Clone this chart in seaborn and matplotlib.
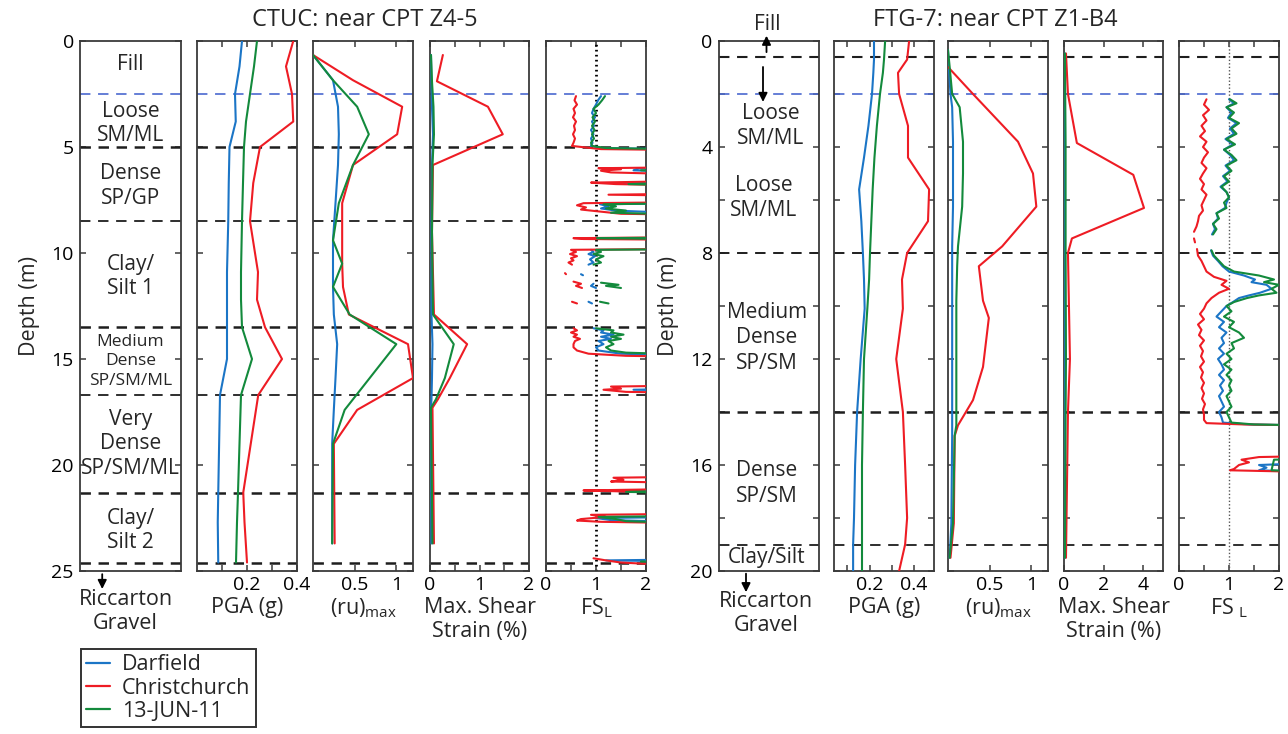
import numpy as np
import pandas as pd
import matplotlib
matplotlib.use("Agg")
import matplotlib.pyplot as plt
from matplotlib.lines import Line2D
import seaborn as sns

# ---------------------------------------------------------------- data
EVENTS = ["Darfield", "Christchurch", "13-JUN-11"]
EVENT_COLORS = ["#1b75c6", "#ee1c24", "#138a3c"]

# --- CTUC: near CPT Z4-5 ---------------------------------------------
CTUC_WATER_TABLE = 2.5
CTUC_LAYER_BOUNDS = [5.0, 8.5, 13.5, 16.7, 21.3, 24.6]
CTUC_LAYER_NAMES = ["Fill", "Loose\nSM/ML", "Dense\nSP/GP", "Clay/\nSilt 1",
                    "Medium\nDense\nSP/SM/ML", "Very\nDense\nSP/SM/ML", "Clay/\nSilt 2"]

CTUC_PGA_DEPTH = [0, 1.2, 2.5, 3.8, 5.0, 6.7, 8.5, 10.9, 12.2, 13.5, 15.0, 16.7, 21.3, 22.7, 24.6]
CTUC_PGA_DARFIELD = [0.180, 0.170, 0.152, 0.155, 0.130, 0.127, 0.125, 0.120, 0.120, 0.120,
                     0.120, 0.092, 0.085, 0.083, 0.085]
CTUC_PGA_CHCH = [0.385, 0.356, 0.380, 0.385, 0.252, 0.225, 0.212, 0.244, 0.240, 0.272,
                 0.340, 0.245, 0.185, 0.190, 0.200]
CTUC_PGA_JUN = [0.240, 0.228, 0.212, 0.196, 0.188, 0.184, 0.180, 0.176, 0.176, 0.180,
                0.220, 0.176, 0.164, 0.160, 0.156]

CTUC_RU_DEPTH = [0.66, 1.85, 3.1, 4.4, 5.85, 7.65, 9.4, 10.5, 11.6, 12.9, 14.3, 15.9, 17.4, 19.0, 23.7]
CTUC_RU_DARFIELD = [0.0, 0.24, 0.30, 0.31, 0.30, 0.27, 0.24, 0.24, 0.24, 0.25, 0.29, 0.27, 0.25, 0.23, 0.23]
CTUC_RU_CHCH = [0.0, 0.48, 1.07, 1.01, 0.48, 0.35, 0.35, 0.35, 0.36, 0.43, 1.14, 1.20, 0.53, 0.25, 0.26]
CTUC_RU_JUN = [0.0, 0.24, 0.53, 0.67, 0.48, 0.31, 0.24, 0.35, 0.24, 0.44, 1.00, 0.68, 0.38, 0.24, 0.23]

CTUC_GAMMA_DEPTH = [0.66, 1.9, 3.1, 4.4, 5.85, 9.0, 12.9, 14.3, 15.9, 16.9, 17.3, 23.7]
CTUC_GAMMA_DARFIELD = [0.02, 0.03, 0.04, 0.06, 0.04, 0.03, 0.03, 0.05, 0.04, 0.03, 0.02, 0.03]
CTUC_GAMMA_CHCH = [0.26, 0.14, 1.17, 1.47, 0.06, 0.04, 0.08, 0.75, 0.40, 0.16, 0.05, 0.08]
CTUC_GAMMA_JUN = [0.02, 0.04, 0.07, 0.08, 0.05, 0.04, 0.06, 0.48, 0.30, 0.12, 0.02, 0.05]

# factor of safety: (depth, FS) pairs, None marks a break in the profile
CTUC_FS_DARFIELD = [
    (2.6, 1.10), (2.8, 1.04), (3.0, 1.00), (3.2, 0.95), (3.4, 0.92), (3.6, 0.98), (3.8, 0.92),
    (4.0, 0.96), (4.2, 0.90), (4.4, 0.95), (4.6, 0.90), (4.8, 0.93), (4.95, 0.90), (5.05, 1.10),
    (5.12, 3.0), None,
    (5.95, 3.0), (6.0, 1.85), (6.1, 1.75), (6.2, 3.0), None,
    (6.65, 3.0), (6.72, 1.55), (6.8, 3.0), None,
    (7.65, 3.0), (7.7, 1.08), (7.8, 1.25), (7.9, 1.10), (8.0, 1.40), (8.15, 3.0), None,
    (9.85, 0.90), (9.95, 0.95), (10.05, 0.85), (10.15, 0.98), (10.3, 0.88), (10.45, 0.95),
    (10.55, 0.85), None,
    (11.0, 0.70), (11.05, 0.74), None,
    (11.45, 0.95), (11.55, 0.90), (11.65, 1.00), None,
    (12.3, 0.85), (12.38, 0.92), None,
    (13.55, 0.95), (13.65, 1.15), (13.75, 1.10), (13.85, 1.35), (13.95, 1.10), (14.05, 1.30),
    (14.15, 1.05), (14.3, 1.15), (14.45, 1.00), (14.6, 1.05), (14.75, 1.50), (14.85, 3.0), None,
    (16.4, 3.0), (16.45, 1.75), (16.5, 3.0), None,
    (21.15, 3.0), (21.22, 1.30), (21.3, 3.0), None,
    (22.45, 3.0), (22.5, 1.00), (22.6, 1.30), (22.7, 3.0), None,
    (24.45, 3.0), (24.5, 1.20), (24.55, 3.0),
]
CTUC_FS_CHCH = [
    (2.6, 0.60), (2.8, 0.57), (3.0, 0.62), (3.2, 0.55), (3.4, 0.58), (3.6, 0.54), (3.8, 0.60),
    (4.0, 0.56), (4.2, 0.58), (4.4, 0.54), (4.6, 0.58), (4.8, 0.55), (4.95, 0.52), (5.05, 0.90),
    (5.1, 1.10), (5.15, 3.0), None,
    (5.95, 3.0), (6.0, 1.05), (6.05, 1.50), (6.12, 1.10), (6.2, 1.30), (6.3, 3.0), None,
    (6.6, 3.0), (6.68, 0.90), (6.75, 1.40), (6.82, 3.0), None,
    (7.2, 3.0), (7.25, 1.25), (7.3, 3.0), None,
    (7.6, 3.0), (7.65, 0.75), (7.75, 0.62), (7.85, 0.80), (7.95, 0.70), (8.05, 1.10),
    (8.15, 1.50), (8.2, 3.0), None,
    (9.25, 3.0), (9.3, 0.55), (9.34, 0.75), (9.38, 3.0), None,
    (9.8, 3.0), (9.85, 0.50), (9.95, 0.60), (10.05, 0.48), (10.15, 0.62), (10.25, 0.50),
    (10.35, 0.55), (10.45, 0.45), (10.55, 0.52), None,
    (10.95, 0.38), (11.0, 0.40), None,
    (11.35, 0.55), (11.45, 0.70), (11.55, 0.60), (11.65, 0.72), None,
    (12.3, 0.52), (12.38, 0.62), None,
    (13.55, 0.55), (13.65, 0.62), (13.75, 0.50), (13.85, 0.62), (13.95, 0.55), (14.05, 0.68),
    (14.15, 0.58), (14.3, 0.55), (14.45, 0.55), (14.6, 0.62), (14.75, 0.85), (14.85, 1.60),
    (14.9, 3.0), None,
    (16.25, 3.0), (16.3, 1.30), (16.4, 1.50), (16.45, 1.15), (16.55, 1.60), (16.6, 3.0), None,
    (20.55, 3.0), (20.6, 1.35), (20.7, 1.55), (20.78, 1.30), (20.85, 3.0), None,
    (21.12, 3.0), (21.2, 0.75), (21.25, 1.60), (21.3, 3.0), None,
    (22.3, 3.0), (22.35, 0.90), (22.45, 1.20), (22.55, 0.70), (22.62, 0.62), (22.68, 1.10),
    (22.75, 3.0), None,
    (24.4, 0.95), (24.5, 1.20), (24.6, 1.50), (24.65, 1.90), (24.7, 3.0),
]
CTUC_FS_JUN = [
    (2.6, 1.18), (2.8, 1.12), (3.0, 1.05), (3.2, 0.95), (3.4, 1.00), (3.6, 0.93), (3.8, 0.98),
    (4.0, 0.92), (4.2, 0.97), (4.4, 0.92), (4.6, 0.96), (4.8, 0.90), (4.95, 0.92), (5.05, 1.20),
    (5.12, 3.0), None,
    (6.05, 3.0), (6.1, 1.90), (6.15, 3.0), None,
    (6.68, 3.0), (6.75, 1.65), (6.82, 3.0), None,
    (7.65, 3.0), (7.7, 1.15), (7.8, 1.40), (7.9, 1.20), (8.0, 1.60), (8.1, 1.30), (8.2, 3.0), None,
    (9.27, 3.0), (9.3, 1.02), (9.35, 3.0), None,
    (9.82, 3.0), (9.85, 1.00), (9.95, 1.10), (10.05, 0.95), (10.15, 1.15), (10.3, 1.00),
    (10.45, 1.10), (10.55, 0.95), None,
    (11.4, 1.10), (11.5, 1.45), (11.55, 1.20), (11.65, 1.50), None,
    (12.3, 1.08), (12.38, 1.25), None,
    (13.55, 1.00), (13.65, 1.35), (13.75, 1.30), (13.85, 1.55), (13.95, 1.30), (14.05, 1.50),
    (14.15, 1.25), (14.3, 1.35), (14.45, 1.20), (14.6, 1.30), (14.7, 1.60), (14.8, 3.0), None,
    (21.2, 3.0), (21.27, 1.60), (21.32, 3.0), None,
    (22.4, 3.0), (22.45, 1.05), (22.55, 1.40), (22.65, 1.60), (22.75, 3.0), None,
    (24.55, 1.90), (24.6, 3.0),
]

# --- FTG-7: near CPT Z1-B4 -------------------------------------------
FTG_WATER_TABLE = 2.0
FTG_LAYER_BOUNDS = [0.6, 8.0, 14.0, 19.0]

FTG_PGA_DEPTH = [0, 0.7, 1.2, 2.0, 3.2, 4.4, 5.6, 6.8, 8.0, 9.0, 10.1, 12.0, 14.0, 16.0, 18.0, 19.0, 20.0]
FTG_PGA_DARFIELD = [0.220, 0.220, 0.217, 0.211, 0.195, 0.175, 0.153, 0.163, 0.170, 0.175,
                    0.178, 0.160, 0.144, 0.135, 0.130, 0.126, 0.126]
FTG_PGA_CHCH = [0.378, 0.369, 0.328, 0.333, 0.373, 0.373, 0.468, 0.463, 0.369, 0.346,
                0.350, 0.320, 0.350, 0.360, 0.369, 0.360, 0.333]
FTG_PGA_JUN = [0.270, 0.265, 0.260, 0.247, 0.233, 0.222, 0.214, 0.208, 0.202, 0.198,
               0.190, 0.175, 0.170, 0.166, 0.166, 0.166, 0.166]

FTG_RU_DEPTH = [0.34, 0.98, 2.0, 2.5, 3.8, 5.0, 6.25, 7.75, 8.5, 9.8, 10.45, 12.3, 13.55, 14.5, 14.9, 18.2, 19.5]
FTG_RU_DARFIELD = [0.0, 0.01, 0.03, 0.05, 0.06, 0.06, 0.06, 0.05, 0.05, 0.05, 0.05, 0.05, 0.05,
                   0.05, 0.05, 0.04, 0.02]
FTG_RU_CHCH = [np.nan, 0.0, 0.30, 0.45, 0.84, 1.02, 1.06, 0.65, 0.37, 0.42, 0.49, 0.42, 0.30,
               0.12, 0.08, 0.07, 0.03]
FTG_RU_JUN = [0.0, 0.02, 0.05, 0.14, 0.18, 0.18, 0.17, 0.12, 0.11, 0.10, 0.10, 0.10, 0.10,
              0.10, 0.08, 0.06, 0.02]

FTG_GAMMA_DEPTH = [0.47, 2.0, 3.85, 5.05, 6.3, 7.45, 8.0, 12.0, 14.0, 19.5]
FTG_GAMMA_DARFIELD = [0.04, 0.05, 0.05, 0.05, 0.05, 0.05, 0.05, 0.06, 0.05, 0.04]
FTG_GAMMA_CHCH = [0.10, 0.20, 0.65, 3.50, 4.04, 0.40, 0.20, 0.30, 0.20, 0.10]
FTG_GAMMA_JUN = [0.05, 0.06, 0.08, 0.08, 0.08, 0.08, 0.08, 0.10, 0.08, 0.05]

FTG_FS_DARFIELD = [
    (2.2, 1.00), (2.35, 1.10), (2.5, 0.95), (2.7, 1.05), (2.9, 0.98), (3.1, 1.15), (3.3, 1.02),
    (3.5, 1.10), (3.7, 0.93), (3.9, 1.08), (4.1, 0.90), (4.3, 1.02), (4.5, 1.10), (4.7, 0.93),
    (4.9, 1.02), (5.1, 0.88), (5.3, 0.97), (5.5, 0.83), (5.7, 0.95), (5.9, 1.00), (6.1, 0.95),
    (6.3, 0.92), (6.5, 0.75), (6.7, 0.78), (6.9, 0.68), (7.1, 0.72), (7.3, 0.66), None,
    (7.9, 0.64), (8.1, 0.68), (8.3, 0.78), (8.5, 0.87), (8.7, 1.00), (8.85, 1.30), (9.0, 1.52),
    (9.1, 1.45), (9.2, 1.75), (9.35, 1.85), (9.5, 1.62), (9.6, 1.40), (9.7, 1.20), (9.85, 1.08),
    (10.0, 0.95), (10.2, 0.85), (10.4, 0.75), (10.6, 0.90), (10.8, 0.80), (11.0, 0.95),
    (11.2, 0.85), (11.4, 0.90), (11.6, 0.80), (11.8, 0.90), (12.0, 0.78), (12.2, 0.85),
    (12.4, 0.90), (12.6, 0.80), (12.8, 0.90), (13.0, 0.82), (13.2, 0.88), (13.4, 0.80),
    (13.6, 0.85), (13.8, 0.90), (14.0, 0.80), (14.2, 0.85), (14.4, 0.88), (14.47, 1.40),
    (14.52, 3.0), None,
    (15.9, 3.0), (16.0, 1.60), (16.1, 1.75), (16.2, 1.60), (16.28, 3.0),
]
FTG_FS_CHCH = [
    (2.2, 0.55), (2.4, 0.50), (2.6, 0.60), (2.8, 0.48), (3.0, 0.55), (3.2, 0.45), (3.4, 0.52),
    (3.6, 0.42), (3.8, 0.55), (4.0, 0.48), (4.2, 0.58), (4.4, 0.50), (4.6, 0.45), (4.8, 0.55),
    (5.0, 0.48), (5.2, 0.42), (5.4, 0.50), (5.6, 0.45), (5.8, 0.55), (6.0, 0.50), (6.2, 0.45),
    (6.4, 0.48), (6.6, 0.40), (6.8, 0.38), (7.0, 0.35), (7.2, 0.30), None,
    (7.45, 0.30), (7.6, 0.32), None,
    (7.85, 0.36), (8.1, 0.38), (8.3, 0.45), (8.5, 0.50), (8.7, 0.55), (8.9, 0.70), (9.05, 0.95),
    (9.2, 0.85), (9.35, 1.00), (9.5, 0.80), (9.7, 0.65), (9.9, 0.55), (10.1, 0.50), (10.3, 0.42),
    (10.5, 0.50), (10.7, 0.38), (10.9, 0.45), (11.1, 0.40), (11.3, 0.50), (11.5, 0.42),
    (11.7, 0.48), (11.9, 0.44), (12.1, 0.50), (12.3, 0.42), (12.5, 0.48), (12.7, 0.44),
    (12.9, 0.50), (13.1, 0.45), (13.3, 0.50), (13.5, 0.46), (13.7, 0.52), (13.9, 0.48),
    (14.1, 0.50), (14.3, 0.50), (14.42, 0.55), (14.47, 1.30), (14.52, 3.0), None,
    (15.65, 3.0), (15.7, 1.60), (15.8, 1.25), (15.9, 1.40), (16.0, 1.20), (16.15, 1.10),
    (16.2, 1.02), (16.28, 3.0),
]
FTG_FS_JUN = [
    (2.2, 1.02), (2.35, 1.15), (2.5, 0.95), (2.7, 1.10), (2.9, 1.00), (3.1, 1.20), (3.3, 1.05),
    (3.5, 1.15), (3.7, 0.95), (3.9, 1.12), (4.1, 0.90), (4.3, 1.05), (4.5, 1.15), (4.7, 0.95),
    (4.9, 1.05), (5.1, 0.90), (5.3, 1.00), (5.5, 0.85), (5.7, 0.95), (5.9, 1.00), (6.1, 0.90),
    (6.3, 0.95), (6.5, 0.75), (6.7, 0.80), (6.9, 0.68), (7.1, 0.75), (7.3, 0.68), None,
    (7.9, 0.65), (8.1, 0.70), (8.3, 0.80), (8.5, 0.90), (8.7, 1.10), (8.85, 1.60), (9.0, 1.90),
    (9.1, 1.70), (9.2, 2.00), (9.35, 1.85), (9.5, 1.95), (9.6, 1.60), (9.7, 1.36), (9.85, 1.10),
    (10.0, 0.95), (10.2, 1.05), (10.4, 0.90), (10.6, 1.10), (10.8, 1.00), (11.0, 1.20),
    (11.2, 1.30), (11.4, 1.05), (11.6, 1.10), (11.8, 0.95), (12.0, 1.05), (12.2, 0.90),
    (12.4, 1.05), (12.6, 0.95), (12.8, 1.05), (13.0, 1.00), (13.2, 1.05), (13.4, 0.95),
    (13.6, 1.00), (13.8, 1.05), (14.0, 0.95), (14.2, 1.00), (14.4, 1.05), (14.47, 1.50),
    (14.52, 3.0), None,
    (15.75, 3.0), (15.8, 1.90), (16.2, 1.85), (16.28, 3.0),
]

# ---------------------------------------------------------------- style
sns.set_theme(style="ticks")
plt.rcParams["font.family"] = ["Open Sans", "DejaVu Sans"]
plt.rcParams["mathtext.fontset"] = "custom"
plt.rcParams["mathtext.rm"] = "Open Sans"
plt.rcParams["mathtext.it"] = "Open Sans:italic"
plt.rcParams["mathtext.bf"] = "Open Sans:bold"

FIG_W, FIG_H = 1288, 734
SPINE = "#3a3a3a"
TICK_SIZE = 14
LABEL_SIZE = 15.5
TEXT_SIZE = 15
fig = plt.figure(figsize=(FIG_W / 100, FIG_H / 100), dpi=100)


def px_axes(x0, x1, y0=41, y1=571):
    return fig.add_axes([x0 / FIG_W, 1 - y1 / FIG_H, (x1 - x0) / FIG_W, (y1 - y0) / FIG_H])


def columns_frame(depth, series):
    parts = [pd.DataFrame({"depth": depth, "value": vals, "event": ev, "seg": 0})
             for ev, vals in zip(EVENTS, series)]
    return pd.concat(parts, ignore_index=True).dropna(subset=["value"])


def pairs_frame(series):
    rows = []
    for ev, pairs in zip(EVENTS, series):
        seg = 0
        for p in pairs:
            if p is None:
                seg += 1
                continue
            rows.append((p[0], p[1], ev, seg))
    return pd.DataFrame(rows, columns=["depth", "value", "event", "seg"])


def draw_lines(ax, df):
    sns.lineplot(data=df, x="value", y="depth", hue="event", units="seg",
                 estimator=None, sort=False, hue_order=EVENTS, palette=EVENT_COLORS,
                 legend=False, linewidth=1.5, ax=ax, zorder=3)
    ax.set_xlabel("")
    ax.set_ylabel("")


def style_panel(ax, depth_max, yticks, ylabels=None):
    ax.set_ylim(depth_max, 0)
    ax.set_yticks(yticks)
    if ylabels is None:
        ax.tick_params(axis="y", labelleft=False)
    else:
        ax.set_yticklabels(ylabels)
    ax.tick_params(axis="both", direction="in", top=True, right=True, length=4.5,
                   width=1.1, color=SPINE, labelcolor="black", labelsize=TICK_SIZE)
    ax.tick_params(axis="x", pad=3.5)
    ax.tick_params(axis="y", pad=4.5)
    for s in ax.spines.values():
        s.set_visible(True)
        s.set_color(SPINE)
        s.set_linewidth(1.3)


def layer_lines(ax, water, bounds, widths):
    ax.axhline(water, color="#4a68cf", lw=1.2, dashes=(7.5 / 1.2, 5.5 / 1.2), zorder=1)
    for d, w in zip(bounds, widths):
        ax.axhline(d, color="#1e1e1e", lw=w, dashes=(7.5 / w, 5.5 / w), zorder=1)


def x_axis(ax, lim, ticks, labels, title):
    ax.set_xlim(*lim)
    ax.set_xticks(ticks)
    ax.set_xticklabels(labels)
    ax.set_xlabel(title, fontsize=LABEL_SIZE, labelpad=2, linespacing=1.2)


def down_arrow(ax, x, y_tail, y_tip):
    ax.annotate("", xy=(x, y_tip), xytext=(x, y_tail), xycoords=ax.get_yaxis_transform(),
                textcoords=ax.get_yaxis_transform(), annotation_clip=False,
                arrowprops=dict(arrowstyle="-|>", color="black", lw=1.3,
                                mutation_scale=13, shrinkA=0, shrinkB=0))


# ---------------------------------------------------------------- CTUC group
ctuc_x = [(80, 181), (197, 297), (313, 413), (430, 529), (546, 646)]
ctuc_axes = [px_axes(a, b) for a, b in ctuc_x]
ctuc_widths = [1.8, 1.3, 1.8, 1.3, 1.8, 1.8]
ctuc_yticks = [0, 5, 10, 15, 20, 25]

soil = ctuc_axes[0]
style_panel(soil, 25, ctuc_yticks, [str(t) for t in ctuc_yticks])
soil.set_xlim(0, 1)
soil.set_xticks([])
soil.set_ylabel("Depth (m)", fontsize=LABEL_SIZE, labelpad=8)
layer_lines(soil, CTUC_WATER_TABLE, CTUC_LAYER_BOUNDS, ctuc_widths)
label_depths = [1.1, 3.9, 6.85, 11.1, 15.1, 19.0, 23.1]
label_sizes = [TEXT_SIZE, TEXT_SIZE, TEXT_SIZE, TEXT_SIZE, 12.5, TEXT_SIZE, TEXT_SIZE]
for name, d, fs in zip(CTUC_LAYER_NAMES, label_depths, label_sizes):
    soil.text(0.5, d, name, transform=soil.get_yaxis_transform(), ha="center",
              va="center", fontsize=fs, linespacing=1.22 if fs > 13 else 1.3)
down_arrow(soil, 0.22, 25.15, 25.85)
soil.text(0.45, 26.9, "Riccarton\nGravel", transform=soil.get_yaxis_transform(),
          ha="center", va="center", fontsize=LABEL_SIZE, linespacing=1.22, clip_on=False)

panels = [
    (columns_frame(CTUC_PGA_DEPTH, [CTUC_PGA_DARFIELD, CTUC_PGA_CHCH, CTUC_PGA_JUN]),
     (0, 0.4), [0.1, 0.2, 0.3, 0.4], ["", "0.2", "", "0.4"], "PGA (g)"),
    (columns_frame(CTUC_RU_DEPTH, [CTUC_RU_DARFIELD, CTUC_RU_CHCH, CTUC_RU_JUN]),
     (0, 1.2), [0.5, 1.0], ["0.5", "1"], "(ru)$_{\\mathregular{max}}$"),
    (columns_frame(CTUC_GAMMA_DEPTH, [CTUC_GAMMA_DARFIELD, CTUC_GAMMA_CHCH, CTUC_GAMMA_JUN]),
     (0, 2), [0, 0.5, 1, 1.5, 2], ["0", "", "1", "", "2"], "Max. Shear\nStrain (%)"),
    (pairs_frame([CTUC_FS_DARFIELD, CTUC_FS_CHCH, CTUC_FS_JUN]),
     (0, 2), [0, 0.5, 1, 1.5, 2], ["0", "", "1", "", "2"], "FS$_{\\mathregular{L}}$"),
]
for ax, (df, lim, ticks, labels, title) in zip(ctuc_axes[1:], panels):
    draw_lines(ax, df)
    style_panel(ax, 25, ctuc_yticks)
    x_axis(ax, lim, ticks, labels, title)
    layer_lines(ax, CTUC_WATER_TABLE, CTUC_LAYER_BOUNDS, ctuc_widths)
ctuc_axes[4].axvline(1, color="black", lw=2.0, dashes=(0.6, 1.2), zorder=2)

fig.text(365 / FIG_W, 1 - 20 / FIG_H, "CTUC: near CPT Z4-5", ha="center", va="center",
         fontsize=17)

# ---------------------------------------------------------------- FTG group
ftg_x = [(719, 819), (834, 934), (948, 1048), (1064, 1163), (1179, 1279)]
ftg_axes = [px_axes(a, b) for a, b in ftg_x]
ftg_widths = [1.5, 1.4, 1.8, 1.3]
ftg_yticks = list(range(0, 21, 2))
ftg_ylabels = [str(t) if t % 4 == 0 else "" for t in ftg_yticks]

soil = ftg_axes[0]
style_panel(soil, 20, ftg_yticks, ftg_ylabels)
soil.set_xlim(0, 1)
soil.set_xticks([])
soil.set_ylabel("Depth (m)", fontsize=LABEL_SIZE, labelpad=8)
layer_lines(soil, FTG_WATER_TABLE, FTG_LAYER_BOUNDS, ftg_widths)
ftg_names = ["Loose\nSM/ML", "Loose\nSM/ML", "Medium\nDense\nSP/SM", "Dense\nSP/SM", "Clay/Silt"]
ftg_label_pos = [(0.52, 3.2), (0.45, 5.93), (0.48, 11.2), (0.48, 16.7), (0.48, 19.5)]
for name, (x, d) in zip(ftg_names, ftg_label_pos):
    soil.text(x, d, name, transform=soil.get_yaxis_transform(), ha="center", va="center",
              fontsize=TEXT_SIZE, linespacing=1.28)
soil.text(0.48, -0.62, "Fill", transform=soil.get_yaxis_transform(), ha="center",
          va="center", fontsize=TEXT_SIZE, clip_on=False)
down_arrow(soil, 0.475, 0.42, -0.2)
down_arrow(soil, 0.44, 0.98, 2.3)
down_arrow(soil, 0.27, 20.1, 20.8)
soil.text(0.47, 21.6, "Riccarton\nGravel", transform=soil.get_yaxis_transform(),
          ha="center", va="center", fontsize=LABEL_SIZE, linespacing=1.22, clip_on=False)

panels = [
    (columns_frame(FTG_PGA_DEPTH, [FTG_PGA_DARFIELD, FTG_PGA_CHCH, FTG_PGA_JUN]),
     (0.04, 0.49), [0.1, 0.2, 0.3, 0.4], ["", "0.2", "", "0.4"], "PGA (g)"),
    (columns_frame(FTG_RU_DEPTH, [FTG_RU_DARFIELD, FTG_RU_CHCH, FTG_RU_JUN]),
     (0, 1.2), [0.5, 1.0], ["0.5", "1"], "(ru)$_{\\mathregular{max}}$"),
    (columns_frame(FTG_GAMMA_DEPTH, [FTG_GAMMA_DARFIELD, FTG_GAMMA_CHCH, FTG_GAMMA_JUN]),
     (0, 5), [0, 2, 4], ["0", "2", "4"], "Max. Shear\nStrain (%)"),
    (pairs_frame([FTG_FS_DARFIELD, FTG_FS_CHCH, FTG_FS_JUN]),
     (0, 2), [0, 0.5, 1, 1.5, 2], ["0", "", "1", "", "2"], "FS $_{\\mathregular{L}}$"),
]
for ax, (df, lim, ticks, labels, title) in zip(ftg_axes[1:], panels):
    draw_lines(ax, df)
    style_panel(ax, 20, ftg_yticks)
    x_axis(ax, lim, ticks, labels, title)
    layer_lines(ax, FTG_WATER_TABLE, FTG_LAYER_BOUNDS, ftg_widths)
ftg_axes[4].axvline(1, color="#555555", lw=1.0, dashes=(1, 1.5), zorder=2)

fig.text(995 / FIG_W, 1 - 20 / FIG_H, "FTG-7: near CPT Z1-B4", ha="center", va="center",
         fontsize=17)

# ---------------------------------------------------------------- legend
handles = [Line2D([], [], color=c, lw=1.6) for c in EVENT_COLORS]
leg = fig.legend(handles, EVENTS, loc="upper left",
                 bbox_to_anchor=(81 / FIG_W, 1 - 649 / FIG_H), frameon=True,
                 fancybox=False, edgecolor="black", fontsize=15.5, handlelength=1.1,
                 handletextpad=0.55, borderpad=0.25, labelspacing=0.1, borderaxespad=0)
leg.get_frame().set_linewidth(1.4)

fig.savefig("out.png", dpi=100, facecolor="white")
